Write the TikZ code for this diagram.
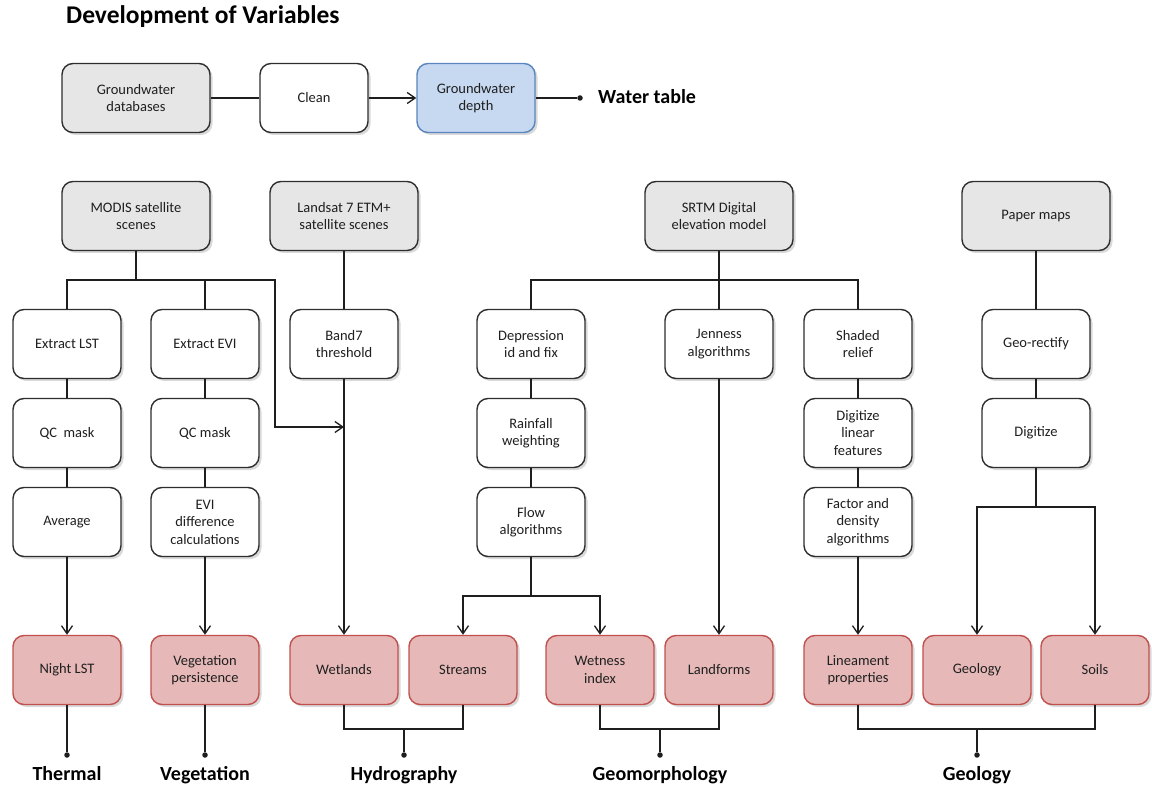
\documentclass[tikz,border=0pt]{standalone}
\usepackage{fontspec}
\setmainfont{Carlito}
\usetikzlibrary{arrows.meta,shadows}

\definecolor{srcgray}{HTML}{E6E6E6}
\definecolor{boxline}{HTML}{2E2E2E}
\definecolor{linkcol}{HTML}{1E1E1E}
\definecolor{txtcol}{HTML}{1F1F1F}
\definecolor{resfill}{HTML}{E6B9B8}
\definecolor{resline}{HTML}{C0504D}
\definecolor{wtfill}{HTML}{C6D9F1}
\definecolor{wtline}{HTML}{5A84BD}

\newcommand\boxtxt{\fontsize{14.5}{17.5}\selectfont}
\newcommand\grptxt{\fontsize{20}{23}\selectfont\bfseries}
\newcommand\ttltxt{\fontsize{25.5}{30}\selectfont\bfseries}

\begin{document}
\begin{tikzpicture}
    [
        x = 1pt, y = -1pt,
        box/.style = {draw = boxline, line width = 1.4pt, rounded corners = 11pt,
                minimum width = 108pt, minimum height = 69pt, align = center,
                font = \boxtxt, text = txtcol, fill = white,
                drop shadow = {shadow xshift = 2.5pt, shadow yshift = -2.5pt, opacity = 0.3}},
        source/.style = {box, fill = srcgray, minimum width = 148pt},
        result/.style = {box, draw = resline, fill = resfill},
        target/.style = {box, draw = wtline, fill = wtfill, minimum width = 118pt},
        link/.style = {draw = linkcol, line width = 1.3pt},
        arr/.style = {link, -{Straight Barb[length = 8pt, width = 11pt]}},
        dot/.style = {circle, fill = linkcol, inner sep = 0pt, minimum size = 5.5pt},
        group/.style = {font = \grptxt, text = black, inner sep = 0pt},
    ]

    \useasboundingbox (0,0) rectangle (1152,786);

    \node[font = \ttltxt, anchor = base west, inner sep = 0pt] (title) at (66,24) {Development of Variables};

    % groundwater
    \node[source] (gwdb) at (136,98) {Groundwater\\databases};
    \node[box] (clean) at (314,98) {Clean};
    \node[target] (gwdepth) at (476,98) {Groundwater\\depth};
    \node[dot] (wtdot) at (580,98) {};
    \node[group, anchor = base west] (wtable) at (598,104) {Water table};

    \draw[link] (gwdb) -- (clean);
    \draw[arr] (clean) -- (gwdepth);
    \draw[link] (gwdepth) -- (wtdot);

    % sources
    \node[source] (modis) at (136,216) {MODIS satellite\\scenes};
    \node[source] (landsat) at (344,216) {Landsat 7 ETM+\\satellite scenes};
    \node[source] (srtm) at (719,216) {SRTM Digital\\elevation model};
    \node[source] (paper) at (1036,216) {Paper maps};

    % processing steps
    \node[box] (xlst) at (67,344) {Extract LST};
    \node[box] (qclst) at (67,433) {QC~~mask};
    \node[box] (avg) at (67,522) {Average};

    \node[box] (xevi) at (205,344) {Extract EVI};
    \node[box] (qcevi) at (205,433) {QC mask};
    \node[box] (evidiff) at (205,522) {EVI\\difference\\calculations};

    \node[box] (band7) at (344,344) {Band7\\threshold};

    \node[box] (depr) at (531,344) {Depression\\id and fix};
    \node[box] (rain) at (531,433) {Rainfall\\weighting};
    \node[box] (flow) at (531,522) {Flow\\algorithms};

    \node[box] (jenness) at (719,344) {Jenness\\algorithms};

    \node[box] (shade) at (858,344) {Shaded\\relief};
    \node[box] (diglin) at (858,433) {Digitize\\linear\\features};
    \node[box] (factor) at (858,522) {Factor and\\density\\algorithms};

    \node[box] (georect) at (1036,344) {Geo-rectify};
    \node[box] (digit) at (1036,433) {Digitize};

    % variables
    \node[result] (nightlst) at (67,670) {Night LST};
    \node[result] (vegpers) at (205,670) {Vegetation\\persistence};
    \node[result] (wetlands) at (344,670) {Wetlands};
    \node[result] (streams) at (463,670) {Streams};
    \node[result] (wetness) at (600,670) {Wetness\\index};
    \node[result] (landforms) at (719,670) {Landforms};
    \node[result] (lineament) at (858,670) {Lineament\\properties};
    \node[result] (geology) at (977,670) {Geology};
    \node[result] (soils) at (1095,670) {Soils};

    % groups
    \foreach \x/\name/\txt in {67/thermal/Thermal, 205/vegetation/Vegetation,
            404/hydro/Hydrography, 660/geomorph/Geomorphology, 977/geol/Geology}{
            \node[dot] (\name dot) at (\x,755) {};
            \node[group, anchor = base] (\name) at (\x,780) {\txt};
        }

    \coordinate (modisfork) at (136,280);
    \coordinate (modisbend) at (275,427);
    \coordinate (bandjoin) at (344,427);
    \coordinate (srtmfork) at (719,280);
    \coordinate (flowfork) at (531,596);
    \coordinate (paperfork) at (1036,507);
    \coordinate (hydrojoin) at (404,729);
    \coordinate (geomjoin) at (660,729);
    \coordinate (geoljoin) at (977,729);

    % MODIS
    \draw[link] (modis) -- (modisfork);
    \draw[link] (xlst) |- (modisfork) -| (xevi);
    \draw[arr] (modisfork) -| (modisbend) -- (bandjoin);
    \draw[link] (xlst) -- (qclst) -- (avg);
    \draw[link] (xevi) -- (qcevi) -- (evidiff);
    \draw[arr] (avg) -- (nightlst);
    \draw[arr] (evidiff) -- (vegpers);

    % Landsat
    \draw[link] (landsat) -- (band7);
    \draw[arr] (band7) -- (wetlands);

    % SRTM
    \draw[link] (srtm) -- (jenness);
    \draw[link] (depr) |- (srtmfork) -| (shade);
    \draw[link] (depr) -- (rain) -- (flow) -- (flowfork);
    \draw[arr] (flowfork) -| (streams);
    \draw[arr] (flowfork) -| (wetness);
    \draw[arr] (jenness) -- (landforms);
    \draw[link] (shade) -- (diglin) -- (factor);
    \draw[arr] (factor) -- (lineament);

    % paper maps
    \draw[link] (paper) -- (georect) -- (digit) -- (paperfork);
    \draw[arr] (paperfork) -| (geology);
    \draw[arr] (paperfork) -| (soils);

    % variables to groups
    \draw[link] (nightlst) -- (thermaldot);
    \draw[link] (vegpers) -- (vegetationdot);
    \draw[link] (wetlands) |- (hydrojoin) -| (streams);
    \draw[link] (hydrojoin) -- (hydrodot);
    \draw[link] (wetness) |- (geomjoin) -| (landforms);
    \draw[link] (geomjoin) -- (geomorphdot);
    \draw[link] (lineament) |- (geoljoin) -| (soils);
    \draw[link] (geoljoin) -- (geoldot);

\end{tikzpicture}
\end{document}
